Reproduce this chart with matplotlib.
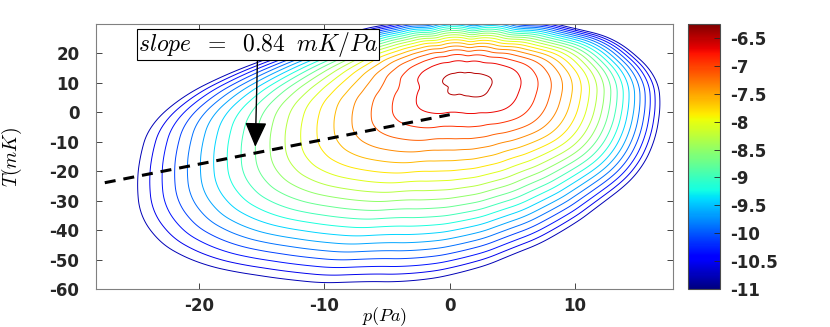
# Joint PDF of p and T (log10 scale), contour plot with slope annotation
import numpy as np
import matplotlib.pyplot as plt
from matplotlib import cm, colors

plt.rcParams['mathtext.fontset'] = 'cm'
plt.rcParams['axes.unicode_minus'] = False

# outermost contour of the pdf (p in Pa, T in mK)
edge_p = [16.8, 16.5, 14.6, 13.0, 10.0, 6.0, 2.0, -2.0, -5.0, -7.7, -12.7, -18.9, -23.4, -24.5,
          -24.8, -25.0, -24.3, -21.0, -17.5, -13.5, -7.0, -3.0, 1.0, 5.0, 9.0, 12.0, 15.1, 16.3]
edge_T = [5.0, 12.0, 20.0, 25.0, 28.0, 30.5, 31.5, 31.0, 29.5, 27.0, 20.0, 10.0, 0.0, -10.0,
          -20.0, -30.0, -40.0, -50.0, -53.5, -56.0, -57.0, -57.0, -54.0, -48.0, -40.0, -31.0, -20.0, -10.0]
# how fast the log-pdf falls off towards each edge point
edge_n = [2.2, 2.3, 2.5, 2.6, 2.7, 2.7, 2.7, 2.7, 2.6, 2.4, 2.0, 1.5, 1.4, 1.4,
          1.4, 1.4, 1.4, 1.4, 1.4, 1.4, 1.35, 1.35, 1.4, 1.5, 1.6, 1.8, 2.0, 2.1]

peak_p, peak_T = 1.0, 8.8
peak_field = -6.42
cmin, cmax = -11.0, -6.25

# fitted line
slope = 0.84
offset = -0.8
line_p = [-27.5, 0.0]

cbar_ticks = [-11, -10.5, -10, -9.5, -9, -8.5, -8, -7.5, -7, -6.5]
cbar_labels = ['-11', '-10.5', '-10', '-9.5', '-9', '-8.5', '-8', '-7.5', '-7', '-6.5']

# edge radius / exponent as smooth functions of angle
aspect = 4.25
ex = np.array(edge_p) - peak_p
ey = (np.array(edge_T) - peak_T) / aspect
th_e = np.degrees(np.arctan2(ey, ex))
r_e = np.hypot(ex, ey)
order = np.argsort(th_e)

th_fine = np.arange(-180, 180, 0.5)
R_fine = np.interp(th_fine, th_e[order], r_e[order], period=360)
n_fine = np.interp(th_fine, th_e[order], np.array(edge_n)[order], period=360)
win = np.ones(21) / 21
pad = 10
R_fine = np.convolve(np.r_[R_fine[-pad:], R_fine, R_fine[:pad]], win, mode='valid')
n_fine = np.convolve(np.r_[n_fine[-pad:], n_fine, n_fine[:pad]], win, mode='valid')

p = np.linspace(-28.2, 17.8, 461)
T = np.linspace(-60, 30, 451)
P, TT = np.meshgrid(p, T)
gx = P - peak_p
gy = (TT - peak_T) / aspect
th = np.degrees(np.arctan2(gy, gx))
r = np.hypot(gx, gy)
R = np.interp(th, th_fine, R_fine, period=360)
n = np.interp(th, th_fine, n_fine, period=360)

levels = np.linspace(cmin, cmax, 22)[1:-1]
amp = peak_field - levels[0]
Z = peak_field - amp * (r / R) ** n

fig = plt.figure(figsize=(8.3, 3.27), dpi=100)
ax = fig.add_axes([96 / 830, 38 / 327, 577 / 830, 265 / 327])
cax = fig.add_axes([688 / 830, 38 / 327, 32 / 830, 265 / 327])

norm = colors.Normalize(vmin=cmin, vmax=cmax)
ax.contour(P, TT, Z, levels=levels, cmap='jet', norm=norm, linewidths=0.7)

lp = np.array(line_p)
ax.plot(lp, slope * lp + offset, color='k', lw=2.2, dashes=(3.6, 2.6))

ax.annotate(r'$slope\ \;=\ \;0.84\ \;mK/Pa$', xy=(-15.5, -11.7), xytext=(-15.3, 22.9),
            ha='center', va='center', fontsize=17,
            bbox=dict(boxstyle='square,pad=0.04', fc='white', ec='k', lw=0.8),
            arrowprops=dict(arrowstyle='-|>,head_length=0.9,head_width=0.4',
                            color='k', lw=1.0, shrinkA=0, shrinkB=0))

ax.set_xlim(-28.2, 17.8)
ax.set_ylim(-60, 30)
ax.set_xticks([-20, -10, 0, 10])
ax.set_yticks([-60, -50, -40, -30, -20, -10, 0, 10, 20])
ax.tick_params(direction='in', top=True, right=True, length=4, width=0.6,
               colors='0.15', labelsize=12)
ax.tick_params(axis='y', pad=12)
ax.tick_params(axis='x', pad=6)
for lab in ax.get_xticklabels() + ax.get_yticklabels():
    lab.set_fontweight('bold')
for s in ax.spines.values():
    s.set_color('0.5')
    s.set_linewidth(0.8)
ax.set_xlabel(r'$p(Pa)$', fontsize=13)
ax.set_ylabel(r'$T(mK)$', fontsize=14)
ax.xaxis.set_label_coords(0.5, -0.06)
ax.yaxis.set_label_coords(-0.125, 0.5)

sm = cm.ScalarMappable(norm=norm, cmap='jet')
cb = fig.colorbar(sm, cax=cax, ticks=cbar_ticks)
cb.ax.set_yticklabels(cbar_labels)
cb.ax.tick_params(direction='in', length=4, width=0.6, colors='0.15', labelsize=12, pad=7)
for lab in cb.ax.get_yticklabels():
    lab.set_fontweight('bold')
cb.outline.set_edgecolor('0.3')
cb.outline.set_linewidth(0.8)

fig.savefig('out.png', dpi=100)
